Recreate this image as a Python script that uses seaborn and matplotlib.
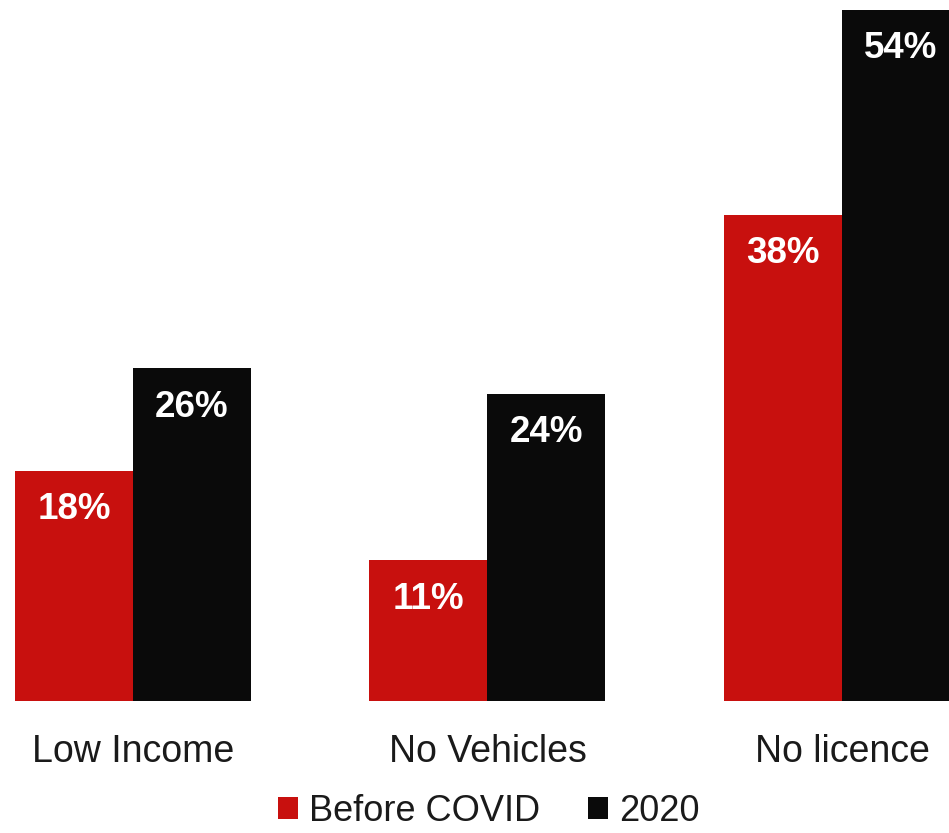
import seaborn as sns
import matplotlib.pyplot as plt
import pandas as pd
import numpy as np

# data
categories = ['Low Income', 'No Vehicles', 'No licence']
before_covid = [18, 11, 38]
year_2020 = [26, 24, 54]
series = ['Before COVID', '2020']

df = pd.DataFrame({
    'category': categories * 2,
    'value': before_covid + year_2020,
    'period': [series[0]] * 3 + [series[1]] * 3,
})

sns.set_style('white')
plt.rcParams['font.family'] = ['Liberation Sans', 'DejaVu Sans']

fig = plt.figure(figsize=(9.49, 8.33), dpi=100)
ax = fig.add_axes([0, 0.1585, 1, 0.8415])

sns.barplot(data=df, x='category', y='value', hue='period',
            hue_order=series, order=categories,
            palette=['#c8100e', '#0a0a0a'],
            width=0.666, gap=0, saturation=1,
            linewidth=0, ax=ax)

for cont in ax.containers:
    for bar in cont:
        h = bar.get_height()
        ax.annotate(f'{h:.0f}%', (bar.get_x() + bar.get_width() / 2, h),
                    xytext=(0, -28), textcoords='offset points',
                    ha='center', va='center', color='white',
                    fontsize=26.5, fontweight='bold')

ax.set_xlim(-0.375, 2.302)
ax.set_ylim(0, 54.77)
ax.set_xlabel('')
ax.set_ylabel('')
ax.set_yticks([])
ax.tick_params(axis='x', length=0, pad=24, labelsize=27, colors='#1a1a1a')
sns.despine(ax=ax, left=True, bottom=True)

handles, labels = ax.get_legend_handles_labels()
ax.get_legend().remove()
fig.legend(handles, labels, loc='center', bbox_to_anchor=(0.515, 0.026),
           ncol=2, frameon=False, fontsize=26, handlelength=0.55,
           handleheight=0.55, handletextpad=0.3, columnspacing=1.33,
           borderpad=0, labelcolor='#1a1a1a')

plt.savefig('out.png', dpi=100)
